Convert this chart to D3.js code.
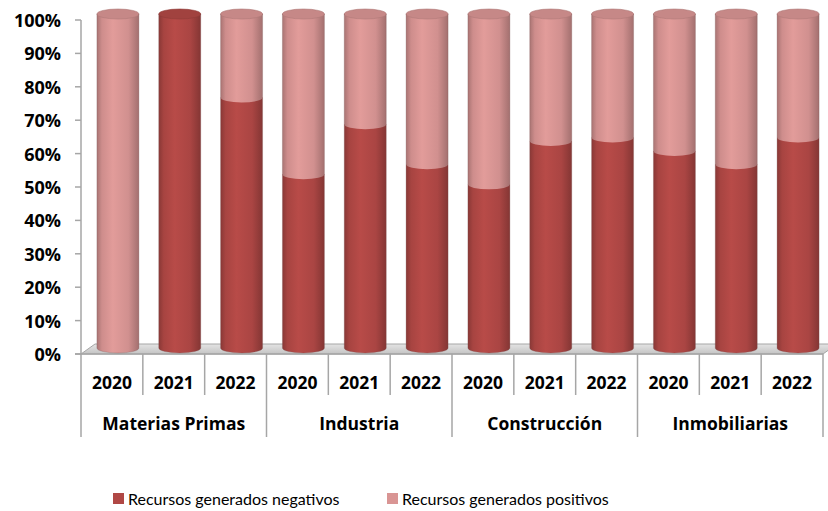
<!DOCTYPE html>
<html>
<head>
<meta charset="utf-8">
<script src="https://cdn.jsdelivr.net/npm/d3@7/dist/d3.min.js"></script>
<style>
body{margin:0;background:#fff}
text{font-family:"Open Sans",Lato,sans-serif}
</style>
</head>
<body>
<div id="chart"></div>
<script>
var groups = ["Materias Primas","Industria","Construcción","Inmobiliarias"]
var years = ["2020","2021","2022"]
// share of negative resources, in %, one value per group and year
var negativos = [0,100,75, 52,67,55, 49,62,63, 59,55,63]
var positivos = negativos.map(function(v){return 100-v})
var seriesNames = ["Recursos generados negativos","Recursos generados positivos"]
var tickLabels = ["0%","10%","20%","30%","40%","50%","60%","70%","80%","90%","100%"]

var W=828,H=511
var pLeft=81,pRight=823,pTop=20,pBottom=354
var depthX=6,depthY=-6   // cylinder shift into the floor
var floorX=14,floorY=-10
var rx=21,ry=5

var svg=d3.select("#chart").append("svg").attr("width",W).attr("height",H)

var cats=[]
groups.forEach(function(g,gi){years.forEach(function(y,yi){cats.push({g:g,y:y,i:gi*3+yi})})})

var x=d3.scaleBand().domain(cats.map(function(d){return d.i})).range([pLeft,pRight])
var y=d3.scaleLinear().domain([0,100]).range([pBottom,pTop])

var defs=svg.append("defs")
function sideGrad(id,c){
	var g=defs.append("linearGradient").attr("id",id).attr("x1","0").attr("x2","1").attr("y1","0").attr("y2","0")
	g.append("stop").attr("offset","0").attr("stop-color",d3.color(c).darker(0.7))
	g.append("stop").attr("offset","0.12").attr("stop-color",d3.color(c).darker(0.15))
	g.append("stop").attr("offset","0.38").attr("stop-color",d3.color(c).brighter(0.12))
	g.append("stop").attr("offset","0.75").attr("stop-color",d3.color(c).darker(0.1))
	g.append("stop").attr("offset","1").attr("stop-color",d3.color(c).darker(0.8))
}
var colors=["#b04845","#d99594"]
sideGrad("gNeg",colors[0])
sideGrad("gPos",colors[1])
var fg=defs.append("linearGradient").attr("id","gFloor").attr("x1","0").attr("x2","0").attr("y1","0").attr("y2","1")
fg.append("stop").attr("offset","0").attr("stop-color","#e4e4e4")
fg.append("stop").attr("offset","1").attr("stop-color","#c4c4c4")

// floor
svg.append("path")
	.attr("d","M"+pLeft+","+pBottom+"L"+(pLeft+floorX)+","+(pBottom+floorY)+"L"+(pRight+floorX)+","+(pBottom+floorY)+"L"+pRight+","+pBottom+"Z")
	.attr("fill","url(#gFloor)").attr("stroke","#a6a6a6").attr("stroke-width",1)

// y axis
svg.append("line").attr("x1",pLeft).attr("x2",pLeft).attr("y1",pTop).attr("y2",pBottom).attr("stroke","#a6a6a6").attr("stroke-width",1.5)
svg.selectAll(".ytick").data(tickLabels).enter().append("line")
	.attr("x1",pLeft-6).attr("x2",pLeft).attr("y1",function(d,i){return y(i*10)}).attr("y2",function(d,i){return y(i*10)})
	.attr("stroke","#a6a6a6").attr("stroke-width",1.5)
svg.selectAll(".ylab").data(tickLabels).enter().append("text")
	.text(function(d){return d})
	.attr("x",pLeft-20).attr("y",function(d,i){return y(i*10)})
	.attr("text-anchor","end").attr("dominant-baseline","central")
	.attr("font-size","18px").attr("font-weight","bold").attr("fill","#000")

// category axis
svg.append("line").attr("x1",pLeft-6).attr("x2",pRight).attr("y1",pBottom).attr("y2",pBottom).attr("stroke","#a6a6a6").attr("stroke-width",1.5)
var bw=x.bandwidth()
d3.range(13).forEach(function(i){
	var xx=pLeft+i*bw
	svg.append("line").attr("x1",xx).attr("x2",xx).attr("y1",pBottom).attr("y2",i%3==0?437:395)
		.attr("stroke","#a6a6a6").attr("stroke-width",1.5)
})
svg.selectAll(".xlab").data(cats).enter().append("text")
	.text(function(d){return d.y})
	.attr("x",function(d){return x(d.i)+bw/2}).attr("y",382)
	.attr("text-anchor","middle").attr("dominant-baseline","central")
	.attr("font-size","17.5px").attr("font-weight","bold").attr("fill","#000")
svg.selectAll(".glab").data(groups).enter().append("text")
	.text(function(d){return d})
	.attr("x",function(d,i){return pLeft+(i*3+1.5)*bw}).attr("y",423)
	.attr("text-anchor","middle").attr("dominant-baseline","central")
	.attr("font-size","17.5px").attr("font-weight","bold").attr("fill","#000")

// cylinders
var cy=function(v){return y(v)+depthY}
var cyl=svg.append("g")
cats.forEach(function(d){
	var cx=x(d.i)+bw/2+depthX
	var segs=[{v0:0,v1:negativos[d.i],c:0},{v0:negativos[d.i],v1:100,c:1}].filter(function(s){return s.v1>s.v0})
	var g=cyl.append("g")
	segs.forEach(function(s){
		var yb=cy(s.v0),yt=cy(s.v1)
		g.append("path")
			.attr("d","M"+(cx-rx)+","+yt+"L"+(cx-rx)+","+yb+"A"+rx+","+ry+" 0 0 0 "+(cx+rx)+","+yb+"L"+(cx+rx)+","+yt+"Z")
			.attr("fill",s.c==0?"url(#gNeg)":"url(#gPos)")
	})
	var last=segs[segs.length-1]
	g.append("ellipse").attr("cx",cx).attr("cy",cy(100)).attr("rx",rx).attr("ry",ry)
		.attr("fill",d3.color(colors[last.c]).darker(0.25))
		.attr("stroke",d3.color(colors[last.c]).darker(0.6)).attr("stroke-width",0.6)
	g.append("path")
		.attr("d","M"+(cx-rx)+","+cy(100)+"L"+(cx-rx)+","+cy(0)+"A"+rx+","+ry+" 0 0 0 "+(cx+rx)+","+cy(0)+"L"+(cx+rx)+","+cy(100))
		.attr("fill","none").attr("stroke","#7a5050").attr("stroke-opacity",0.35).attr("stroke-width",0.8)
})

// legend
var leg=svg.append("g")
var legX=[113,387]
seriesNames.forEach(function(n,i){
	leg.append("rect").attr("x",legX[i]).attr("y",493).attr("width",11).attr("height",11).attr("fill",colors[i])
	leg.append("text").text(n).attr("x",legX[i]+15).attr("y",498.5)
		.attr("dominant-baseline","central").attr("font-size","16px").attr("fill","#000")
		.style("font-family","Lato,sans-serif")
})
</script>
</body>
</html>
